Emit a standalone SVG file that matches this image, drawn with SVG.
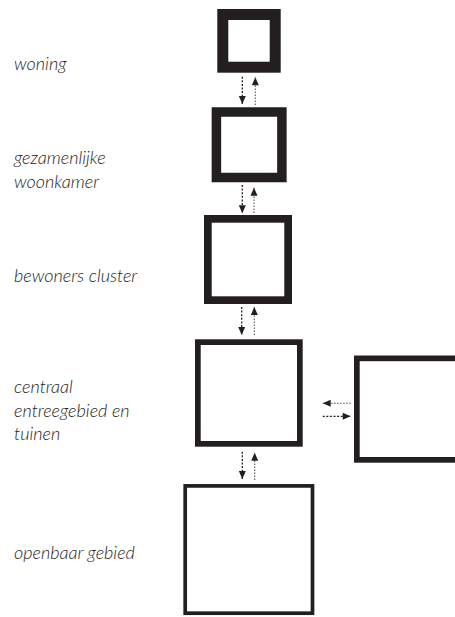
<svg xmlns="http://www.w3.org/2000/svg" width="455" height="617" viewBox="0 0 455 617">
  <style>
    .box { fill: #ffffff; stroke: #231f20; }
    .lbl { font-family: Lato, "Noto Sans", sans-serif; font-style: italic; font-weight: 300; font-size: 18px; fill: #222222; }
    .dn { stroke: #231f20; stroke-width: 1.3; stroke-dasharray: 2 1.6; fill: none; }
    .up { stroke: #555555; stroke-width: 1.1; stroke-dasharray: 1.6 1.4; fill: none; }
  </style>
  <defs>
    <marker id="ah" markerUnits="userSpaceOnUse" markerWidth="10" markerHeight="10" viewBox="0 0 10 10" refX="9" refY="5" orient="auto">
      <path d="M1,1.5 L9,5 L1,8.5 Z" fill="#231f20"/>
    </marker>
  </defs>
  <rect width="455" height="617" fill="#ffffff"/>

  <g id="n-woning">
    <rect class="box" x="222.8" y="14.5" width="52.4" height="52.7" stroke-width="11"/>
    <text class="lbl" x="14" y="70">woning</text>
  </g>
  <g id="n-woonkamer">
    <rect class="box" x="216.4" y="112" width="65.5" height="65.5" stroke-width="9.5"/>
    <text class="lbl" x="14" y="163.5">gezamenlijke</text>
    <text class="lbl" x="14" y="188">woonkamer</text>
  </g>
  <g id="n-cluster">
    <rect class="box" x="207.85" y="218.85" width="80.3" height="81.3" stroke-width="7.7"/>
    <text class="lbl" x="14" y="281.7">bewoners cluster</text>
  </g>
  <g id="n-centraal">
    <rect class="box" x="197.85" y="342.15" width="102" height="101.7" stroke-width="5.7"/>
    <text class="lbl" x="14" y="393.3">centraal</text>
    <text class="lbl" x="14" y="416.7">entreegebied en</text>
    <text class="lbl" x="14" y="440">tuinen</text>
  </g>
  <g id="n-openbaar">
    <rect class="box" x="185.2" y="485.9" width="127.3" height="127.3" stroke-width="3.7"/>
    <text class="lbl" x="14" y="559">openbaar gebied</text>
  </g>
  <g id="n-extern">
    <rect class="box" x="356.85" y="358.35" width="102" height="101.5" stroke-width="5.7"/>
  </g>

  <g id="connectors">
    <path class="dn" d="M242.3,76.7 V104" marker-end="url(#ah)"/>
    <path class="up" d="M255.3,105 V77.3" marker-end="url(#ah)"/>
    <path class="dn" d="M242.3,185 V213.3" marker-end="url(#ah)"/>
    <path class="up" d="M254,213 V187.7" marker-end="url(#ah)"/>
    <path class="dn" d="M241.7,307 V335" marker-end="url(#ah)"/>
    <path class="up" d="M254.3,335 V307" marker-end="url(#ah)"/>
    <path class="dn" d="M242.3,451.7 V479" marker-end="url(#ah)"/>
    <path class="up" d="M254.7,480 V452.7" marker-end="url(#ah)"/>
    <path class="up" d="M350.7,403.3 H322.7" marker-end="url(#ah)"/>
    <path class="dn" d="M322.7,416.3 H350.7" marker-end="url(#ah)"/>
  </g>
</svg>
